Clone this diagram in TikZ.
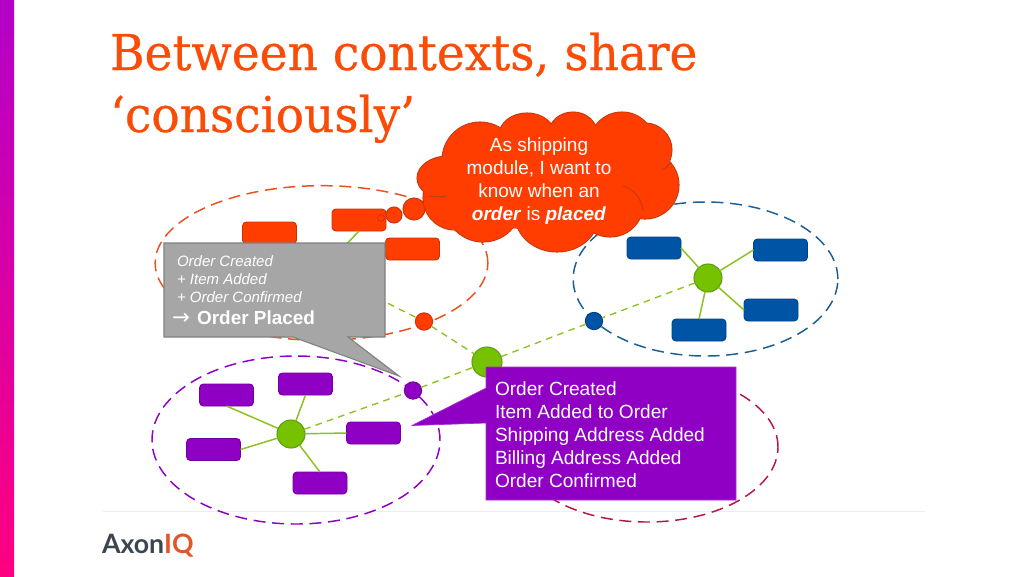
\documentclass[tikz,border=0pt]{standalone}
\usepackage{fontspec}
\usetikzlibrary{shapes.geometric}
\setmainfont{Liberation Sans}
\newfontfamily\titlefont[FakeStretch=0.955,FakeBold=0.5]{DejaVu Serif}
\newfontfamily\logofont{Lato}
\newfontfamily\symfont{DejaVu Sans}
\definecolor{cred}{HTML}{FF3D00}
\definecolor{credb}{HTML}{C8380F}
\definecolor{cblue}{HTML}{0054A6}
\definecolor{cblueb}{HTML}{1A5E96}
\definecolor{cpur}{HTML}{8F00C4}
\definecolor{cpurb}{HTML}{6F0A98}
\definecolor{ccrim}{HTML}{B8134F}
\definecolor{cgreen}{HTML}{76C200}
\definecolor{cgreenb}{HTML}{5F9E10}
\definecolor{clink}{HTML}{8BC220}
\definecolor{cdash}{HTML}{E8501E}
\definecolor{ctitle}{HTML}{FA4C06}
\definecolor{bartop}{HTML}{B400C8}
\definecolor{barbot}{HTML}{FF0080}
\tikzset{
  ctx/.style={ellipse,draw=#1,line width=1.1pt,dash pattern=on 9pt off 5pt,inner sep=0pt,outer sep=0pt},
  agg/.style={rounded corners=3pt,draw=#1!80!black,fill=#1,line width=.7pt,minimum width=40.5pt,minimum height=16.5pt,inner sep=0pt,outer sep=0pt},
  dot/.style={circle,fill=#1,draw=#1!80!black,line width=.7pt,inner sep=0pt,outer sep=0pt,minimum size=13pt},
  hub/.style={circle,fill=cgreen,draw=cgreenb,line width=.8pt,inner sep=0pt,outer sep=0pt,minimum size=21pt},
  spoke/.style={draw=clink,line width=1.1pt},
  dlink/.style={draw=clink,line width=1pt,dash pattern=on 5pt off 4pt},
  bub/.style={fill=cred,draw=credb,line width=.8pt},
  txt/.style={text=white,inner sep=0pt,outer sep=0pt,align=left}
}
\begin{document}
\begin{tikzpicture}[x=0.75pt,y=-0.75pt]
\useasboundingbox (0,0) rectangle (1024,576);
\fill[white] (0,0) rectangle (1024,576);
\shade[top color=bartop,bottom color=barbot] (0,0) rectangle (14,576);
\draw[black!7,line width=.7pt] (103,511) -- (925,511);
% contexts
\node[ctx=cdash,minimum width=249.5pt,minimum height=116pt] (cr) at (321.5,263) {};
\node[ctx=cblueb,minimum width=198.5pt,minimum height=115.5pt] (cb) at (705.5,279) {};
\node[ctx=cpur,minimum width=216pt,minimum height=126pt] (cp) at (296,440) {};
\node[ctx=ccrim,minimum width=196.5pt,minimum height=112.5pt] (cc) at (647,447) {};
% red
\node[hub] (hr) at (322,270) {};
\node[agg=cred] (r1) at (269.5,233) {};
\node[agg=cred] (r2) at (359,220) {};
\node[agg=cred] (r3) at (412.5,249) {};
\draw[spoke] (hr)--(r1.south); \draw[spoke] (hr)--(r2.south); \draw[spoke] (hr)--(r3.west);
% blue
\node[hub] (hb) at (708,278) {};
\node[agg=cblue] (b1) at (654,248) {};
\node[agg=cblue] (b2) at (780.5,250) {};
\node[agg=cblue] (b3) at (771,310) {};
\node[agg=cblue] (b4) at (699,330) {};
\draw[spoke] (hb)--(b1.east); \draw[spoke] (hb)--(b2.west); \draw[spoke] (hb)--(b3.west); \draw[spoke] (hb)--(b4.north);
% purple
\node[hub] (hp) at (291,434) {};
\node[agg=cpur] (p1) at (226.5,395) {};
\node[agg=cpur] (p2) at (305.5,384) {};
\node[agg=cpur] (p3) at (373.5,433) {};
\node[agg=cpur] (p4) at (213.5,449.5) {};
\node[agg=cpur] (p5) at (320,483) {};
\draw[spoke] (hp)--(p1.south); \draw[spoke] (hp)--(p2.south); \draw[spoke] (hp)--(p3.west); \draw[spoke] (hp)--(p4.east); \draw[spoke] (hp)--(p5.north);
% hub links
\node[hub,minimum size=22.5pt] (hc) at (487,362) {};
\node[dot=cred] (dr) at (424,321.5) {};
\node[dot=cblue] (db) at (594,321) {};
\node[dot=cpur] (dp) at (413,390.5) {};
\draw[dlink] (hr)--(dr); \draw[dlink] (dr)--(hc);
\draw[dlink] (hb)--(db); \draw[dlink] (db)--(hc);
\draw[dlink] (hp)--(dp); \draw[dlink] (dp)--(hc);
% cloud
\path[bub] (414,209) circle[radius=8.25pt];
\path[bub] (394,215) circle[radius=6pt];
\def\lobes{480/160/38/38,527/135/28/22,573/133/24/21,622/145/33/33,645/150/27/27,645/185/34/34,610/205/33/32,557/215/42/37,483/205/38/37,448/178/31/22,455/198/32/32}
\foreach \cx/\cy/\rx/\ry in \lobes{
  \path[bub] (\cx,\cy) ellipse[x radius=\rx,y radius=\ry];
}
\foreach \cx/\cy/\rx/\ry in \lobes{
  \fill[cred] (\cx,\cy) ellipse[x radius=\rx-.6,y radius=\ry-.6];
}
\fill[cred] (540,180) ellipse[x radius=104,y radius=50];
\draw[credb,line width=.6pt] (381,218) circle[radius=2.6pt];
\draw[credb,line width=.7pt] (428,196) .. controls (433,197) and (440,197) .. (447,196);
\draw[credb,line width=.7pt] (623,186) .. controls (634,189) and (641,198) .. (643,210);
\draw[credb,line width=.7pt] (662,170) .. controls (666,168) and (669,165) .. (671,162);
\node[txt,align=center,font=\fontsize{14.25}{17.25}\selectfont] (tc) at (539,181) {As shipping\\module, I want to\\know when an\\\textbf{\textit{order}} is \textbf{\textit{placed}}};
% callouts
\draw[fill=black!35,draw=black!50,line width=.8pt] (164,243)--(385,243)--(385,337)--(348,337)--(399,376)--(293,337)--(164,337)--cycle;
\node[txt,anchor=west,font=\fontsize{11.25}{13.5}\selectfont\itshape] (tg) at (177,279) {Order Created\\+ Item Added\\+ Order Confirmed};
\node[txt,anchor=west,font=\fontsize{14.2}{17}\selectfont\bfseries] (tp) at (172,317.5) {{\symfont\mdseries\fontsize{16}{17}\selectfont →}\hspace{1.5pt} Order Placed};
\path[fill=cpur,draw=cpur!80!white,line width=.5pt] (486,367)--(736,367)--(736,500)--(486,500)--(486,423)--(412,425.5)--(486,388)--cycle;
\node[txt,anchor=west,font=\fontsize{14.3}{17.25}\selectfont] (tv) at (495,434.5) {Order Created\\Item Added to Order\\Shipping Address Added\\Billing Address Added\\Order Confirmed};
% title
\node[anchor=base west,inner sep=0pt,outer sep=0pt,text=ctitle,font=\fontsize{37}{46}\selectfont\titlefont] (t1) at (110,70) {Between contexts, share};
\node[anchor=base west,inner sep=0pt,outer sep=0pt,text=ctitle,font=\fontsize{37}{46}\selectfont\titlefont] (t2) at (110,132) {‘consciously’};
% logo
\node[anchor=base west,inner sep=0pt,outer sep=0pt,font=\fontsize{20}{22}\selectfont\logofont\bfseries] (lg) at (102,553) {\textcolor[HTML]{3C4650}{Axon}\textcolor[HTML]{E0562A}{IQ}};
\end{tikzpicture}
\end{document}
